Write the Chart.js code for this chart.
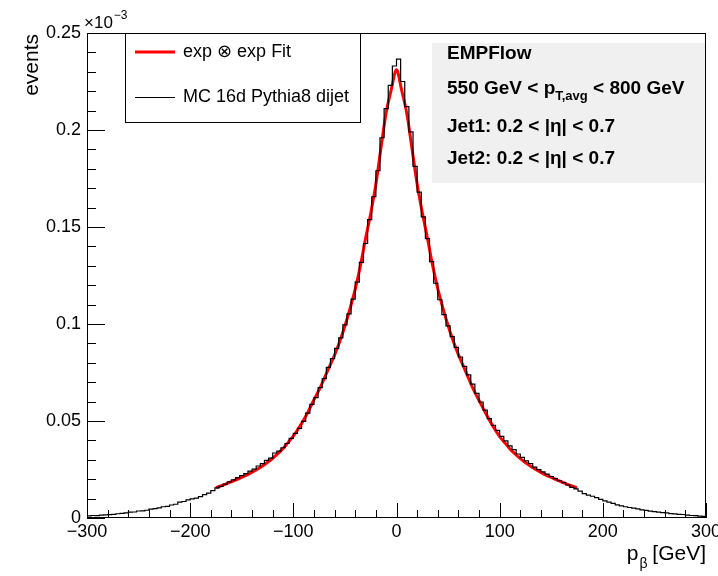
<!DOCTYPE html>
<html>
<head>
<meta charset="utf-8">
<script src="https://cdn.jsdelivr.net/npm/chart.js@4.4.1/dist/chart.umd.min.js"></script>
<style>
html,body{margin:0;padding:0;background:#fff;}
#wrap{width:718px;height:576px;}
</style>
</head>
<body>
<div id="wrap"><canvas id="c" width="718" height="576"></canvas></div>
<script>
// ---------------- data (values in units of 10^-3 events) ----------------
const binLow = -300;
const binWidth = 4;
const eventsPerBin = [
  0.0011,0.0013,0.0012,0.0015,0.0016,0.0017,0.0019,0.0022,0.0024,0.0026,
  0.0030,0.0031,0.0036,0.0037,0.0040,0.0046,0.0048,0.0052,0.0058,0.0060,
  0.0067,0.0071,0.0082,0.0085,0.0093,0.0099,0.0102,0.0110,0.0121,0.0128,
  0.0141,0.0155,0.0163,0.0175,0.0186,0.0197,0.0208,0.0218,0.0229,0.0242,
  0.0252,0.0268,0.0280,0.0297,0.0309,0.0335,0.0345,0.0362,0.0384,0.0410,
  0.0436,0.0462,0.0498,0.0541,0.0586,0.0621,0.0672,0.0718,0.0776,0.0822,
  0.0874,0.0928,0.0995,0.1052,0.1128,0.1216,0.1318,0.1415,0.1538,0.1656,
  0.1790,0.1960,0.2110,0.2230,0.2330,
  0.2365,0.2250,0.2120,0.1990,0.1812,0.1680,0.1552,0.1440,0.1322,0.1210,
  0.1125,0.1048,0.0990,0.0935,0.0880,0.0830,0.0782,0.0738,0.0690,0.0642,
  0.0598,0.0556,0.0512,0.0478,0.0452,0.0421,0.0398,0.0372,0.0352,0.0330,
  0.0312,0.0294,0.0281,0.0262,0.0249,0.0238,0.0226,0.0214,0.0203,0.0192,
  0.0182,0.0170,0.0158,0.0150,0.0139,0.0126,0.0118,0.0112,0.0105,0.0096,
  0.0088,0.0082,0.0075,0.0068,0.0063,0.0058,0.0054,0.0051,0.0047,0.0042,
  0.0039,0.0035,0.0033,0.0030,0.0028,0.0026,0.0023,0.0021,0.0019,0.0018,
  0.0015,0.0013,0.0012,0.0010,0.0008
];
const fitX = [
  -175,-170,-165,-160,-155,-150,-145,-140,-135,-130,-125,-120,-115,-110,-105,-100,
  -95,-90,-85,-80,-75,-70,-65,-60,-55,-50,-45,-40,-35,-30,-25,-20,-15,-10,-5,
  0,
  5,10,15,20,25,30,35,40,45,50,55,60,65,70,75,80,85,90,95,
  100,105,110,115,120,125,130,135,140,145,150,155,160,165,170,175
];
const fitY = [
  0.0156,0.0166,0.0176,0.0187,0.0198,0.0210,0.0222,0.0236,0.0251,0.0268,0.0287,0.0308,0.0332,0.0358,0.0390,0.0422,
  0.0462,0.0505,0.0555,0.0610,0.0660,0.0720,0.0780,0.0840,0.0910,0.0990,0.1080,0.1180,0.1300,0.1440,0.1570,0.1720,0.1910,0.2090,0.2210,
  0.2310,
  0.2205,0.2085,0.1905,0.1722,0.1575,0.1442,0.1302,0.1182,0.1082,0.0992,0.0912,0.0842,0.0780,0.0718,0.0658,0.0606,0.0555,0.0505,0.0460,
  0.0420,0.0388,0.0356,0.0330,0.0306,0.0286,0.0267,0.0250,0.0235,0.0221,0.0209,0.0197,0.0186,0.0175,0.0165,0.0155
];
const xTickValues = [-300,-200,-100,0,100,200,300];
const yTickValues = [0,0.05,0.1,0.15,0.2,0.25];
const legendLabels = ['exp \u2297 exp Fit', 'MC 16d Pythia8 dijet'];
const xTitle = ['p', '\u03b2', ' [GeV]'];
const yTitle = 'events';
const infoLines = [
  [['EMPFlow', 0]],
  [['550 GeV < p', 0], ['T,avg', 1], [' < 800 GeV', 0]],
  [['Jet1: 0.2 < |\u03b7| < 0.7', 0]],
  [['Jet2: 0.2 < |\u03b7| < 0.7', 0]]
];

// ---------------- helpers ----------------
const FAM = "'Liberation Sans', Arial, Helvetica, 'DejaVu Sans', sans-serif";
const histPoints = eventsPerBin.map((v, i) => ({x: binLow + i * binWidth, y: v}));
histPoints.push({x: binLow + eventsPerBin.length * binWidth, y: eventsPerBin[eventsPerBin.length - 1]});
const fitPoints = fitX.map((x, i) => ({x: x, y: fitY[i]}));

const decor = {
  id: 'decor',
  afterDraw(chart) {
    const {ctx, chartArea: a, scales: {x, y}} = chart;
    ctx.save();
    ctx.strokeStyle = '#000';
    ctx.fillStyle = '#000';
    ctx.lineWidth = 1;
    // frame
    ctx.strokeRect(a.left + 0.5, a.top + 0.5, a.right - a.left - 1, a.bottom - a.top - 1);
    // y ticks (inward)
    ctx.beginPath();
    for (let k = 0; k <= 25; k++) {
      const v = k / 100;
      const py = Math.round(y.getPixelForValue(v)) + 0.5;
      const len = (k % 5 === 0) ? 18 : 9;
      ctx.moveTo(a.left, py); ctx.lineTo(a.left + len, py);
    }
    // x ticks (inward)
    for (let g = -300; g <= 300; g += 20) {
      const px = Math.round(x.getPixelForValue(g)) + 0.5;
      const len = (g % 100 === 0) ? 15 : 8;
      ctx.moveTo(px, a.bottom); ctx.lineTo(px, a.bottom - len);
    }
    ctx.stroke();

    // exponent label
    ctx.textBaseline = 'alphabetic';
    ctx.textAlign = 'left';
    ctx.font = '17px ' + FAM;
    ctx.fillText('\u00d710', 84, 28);
    const w10 = ctx.measureText('\u00d710').width;
    ctx.font = '12px ' + FAM;
    ctx.fillText('\u22123', 84 + w10 + 1, 19);

    // y title
    ctx.save();
    ctx.translate(38, 34);
    ctx.rotate(-Math.PI / 2);
    ctx.font = '21px ' + FAM;
    ctx.textAlign = 'right';
    ctx.textBaseline = 'alphabetic';
    ctx.fillText(yTitle, 0, 0);
    ctx.restore();

    // x title (right aligned)
    ctx.font = '21px ' + FAM;
    const wp = ctx.measureText(xTitle[0]).width;
    const wg = ctx.measureText(xTitle[2]).width;
    ctx.font = '14px ' + FAM;
    const wb = ctx.measureText(xTitle[1]).width;
    let xs = 706 - wg - wb - wp;
    ctx.font = '21px ' + FAM;
    ctx.fillText(xTitle[0], xs, 560);
    ctx.font = '14px ' + FAM;
    ctx.fillText(xTitle[1], xs + wp + 1, 568);
    ctx.font = '21px ' + FAM;
    ctx.fillText(xTitle[2], xs + wp + wb, 560);

    // legend box
    ctx.fillStyle = '#fff';
    ctx.fillRect(125, 33, 235, 89);
    ctx.strokeStyle = '#000';
    ctx.lineWidth = 1;
    ctx.strokeRect(125.5, 33.5, 235, 89);
    ctx.strokeStyle = '#ff0000';
    ctx.lineWidth = 3;
    ctx.beginPath(); ctx.moveTo(135, 52); ctx.lineTo(175, 52); ctx.stroke();
    ctx.strokeStyle = '#000';
    ctx.lineWidth = 1;
    ctx.beginPath(); ctx.moveTo(135, 97.5); ctx.lineTo(175, 97.5); ctx.stroke();
    ctx.fillStyle = '#000';
    ctx.font = '18px ' + FAM;
    ctx.textBaseline = 'middle';
    ctx.fillText(legendLabels[0], 183, 52);
    ctx.fillText(legendLabels[1], 183, 97);

    // info box
    ctx.fillStyle = '#f0f0f0';
    ctx.fillRect(432, 43, a.right - 1 - 432, 140);
    ctx.fillStyle = '#000';
    ctx.textBaseline = 'alphabetic';
    const baselines = [59, 94, 132, 164];
    infoLines.forEach((parts, li) => {
      let cx = 447;
      parts.forEach(([t, sub]) => {
        ctx.font = 'bold ' + (sub ? 13 : 19) + 'px ' + FAM;
        ctx.fillText(t, cx, baselines[li] + (sub ? 6 : 0));
        cx += ctx.measureText(t).width;
      });
    });
    ctx.restore();
  }
};

new Chart(document.getElementById('c'), {
  type: 'line',
  data: {
    datasets: [
      {
        label: legendLabels[1],
        data: histPoints,
        borderColor: '#000',
        borderWidth: 1.2,
        stepped: true,
        pointRadius: 0,
        fill: false,
        order: 0
      },
      {
        label: legendLabels[0],
        data: fitPoints,
        borderColor: '#ff0000',
        borderWidth: 3,
        pointRadius: 0,
        cubicInterpolationMode: 'monotone',
        fill: false,
        order: 1
      }
    ]
  },
  options: {
    responsive: false,
    animation: false,
    devicePixelRatio: 1,
    layout: {padding: {left: 0, right: 12, top: 33, bottom: 0}},
    plugins: {legend: {display: false}, tooltip: {enabled: false}},
    scales: {
      x: {
        type: 'linear',
        min: -300, max: 300,
        grid: {display: false, drawTicks: false},
        border: {display: false},
        afterBuildTicks: s => { s.ticks = xTickValues.map(v => ({value: v})); },
        afterFit: s => { s.height = 58; s.paddingLeft = 0; s.paddingRight = 0; },
        ticks: {
          color: '#000',
          font: {size: 18, family: FAM},
          padding: 3,
          maxRotation: 0,
          autoSkip: false,
          callback: v => (v < 0 ? '\u2212' + Math.abs(v) : String(v))
        }
      },
      y: {
        type: 'linear',
        min: 0, max: 0.25,
        grid: {display: false, drawTicks: false},
        border: {display: false},
        afterBuildTicks: s => { s.ticks = yTickValues.map(v => ({value: v})); },
        afterFit: s => { s.width = 87; s.paddingTop = 0; s.paddingBottom = 0; },
        ticks: {
          color: '#000',
          font: {size: 18, family: FAM},
          padding: 6,
          callback: v => String(+v.toFixed(2))
        }
      }
    }
  },
  plugins: [decor]
});
</script>
</body>
</html>
